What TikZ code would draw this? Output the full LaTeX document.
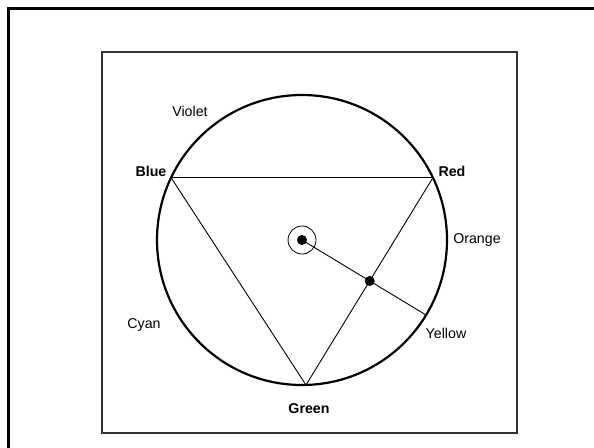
\documentclass[tikz,border=0pt]{standalone}
\usepackage{fontspec}
\setmainfont{Liberation Sans}
\begin{document}
\begin{tikzpicture}[x=1pt,y=-1pt,
  lbl/.style={inner sep=0pt,font=\fontsize{14.2}{16}\selectfont},
  blbl/.style={lbl,font=\fontsize{14.2}{16}\selectfont\bfseries},
  thinline/.style={line width=0.9pt},
  dot/.style={circle,fill=black,inner sep=0pt,minimum size=10pt}]
\useasboundingbox (0,0) rectangle (594,447);
% outer frame (cropped)
\draw[line width=3pt] (8,460) -- (8,8) -- (610,8);
% inner frame
\draw[line width=1.1pt,black!80] (102,52) rectangle (517,433);
% points
\coordinate (c) at (302,240);
\coordinate (b) at (171,177.5);
\coordinate (r) at (433,177.5);
\coordinate (g) at (306,385);
\coordinate (y) at (426,315);
% wheel
\draw[line width=2.2pt] (c) circle[radius=145pt];
\draw[thinline] (b) -- (r) -- (g) -- cycle;
\draw[thinline] (c) -- (y);
\draw[line width=0.8pt] (c) circle[radius=14pt];
\node[dot] (cd) at (c) {};
\node[dot] (id) at (intersection of c--y and r--g) {};
% labels
\node[lbl] (violet) at (190,111) {Violet};
\node[blbl] (blue) at (151,171) {Blue};
\node[blbl] (red) at (452,171) {Red};
\node[lbl] (orange) at (477,240) {Orange};
\node[lbl] (yellow) at (446,333) {Yellow};
\node[blbl] (green) at (309,409) {Green};
\node[lbl] (cyan) at (144,325) {Cyan};
\end{tikzpicture}
\end{document}
